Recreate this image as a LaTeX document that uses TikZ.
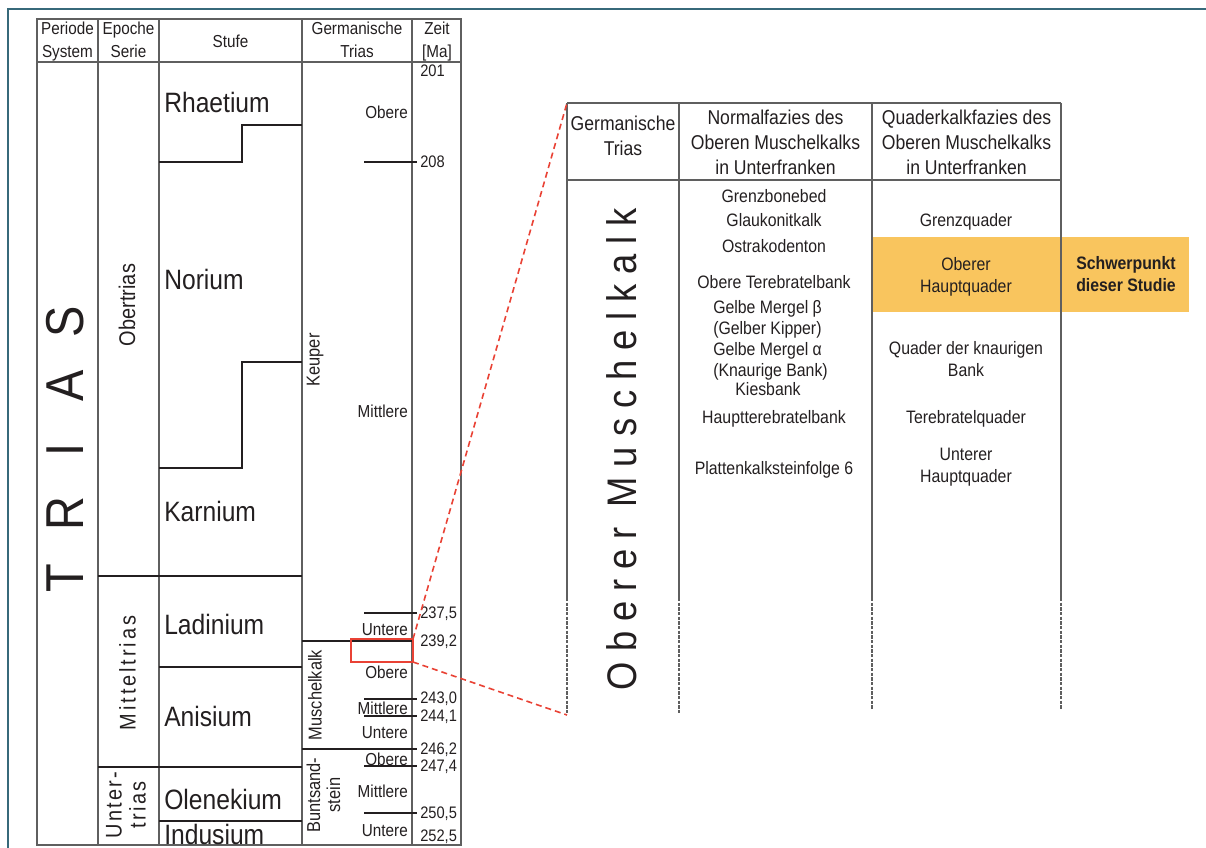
\documentclass[tikz,border=0pt]{standalone}
\usepackage{fontspec}
\setmainfont[FakeStretch=0.88]{Liberation Sans}
\usetikzlibrary{positioning}

\definecolor{tabgray}{RGB}{95,95,95}
\definecolor{inkgray}{RGB}{35,31,32}
\definecolor{markred}{RGB}{233,66,53}
\definecolor{focusorange}{RGB}{249,197,94}
\definecolor{frameteal}{RGB}{55,105,122}

\newcommand{\fsz}[2]{\fontsize{#1}{#2}\selectfont\lineskiplimit=-20pt}

\begin{document}
\begin{tikzpicture}[x=0.75pt,y=-0.75pt,
	tab/.style={draw=tabgray, line width=0.9pt},
	bound/.style={draw=inkgray, line width=0.8pt},
	redlink/.style={draw=markred, line width=1.2pt, dash pattern=on 4.5pt off 3pt},
	lbl/.style={inner sep=0pt, text=inkgray, text depth=0pt},
	head/.style={inner sep=0pt, text=inkgray, align=center, font=\fsz{13}{17}},
	rhead/.style={inner sep=0pt, text=inkgray, align=center, font=\fsz{15}{18.75}},
	stufe/.style={lbl, anchor=west, font=\fsz{21}{24}, text height=15pt},
	zeit/.style={lbl, anchor=west, font=\fsz{12.5}{14}, text height=8.9pt},
	sub/.style={lbl, anchor=east, font=\fsz{13}{15}, text height=9.3pt},
	grp/.style={lbl, rotate=90, font=\fsz{14}{15}, text height=10pt},
	serie/.style={lbl, rotate=90, font=\fsz{17}{18}, text height=12.2pt},
	body/.style={lbl, font=\fsz{13.5}{15}, text height=9.7pt},
]
\useasboundingbox (0,0) rectangle (1206,848);

% frame
\draw[frameteal, line width=1.6pt] (8,848) -- (8,9) -- (1206,9);

% left table
\draw[tab] (37,19) rectangle (461,845);
\draw[tab] (37,62) -- (461,62);
\foreach \x in {98,159,302,412}
	\draw[tab] (\x,19) -- (\x,845);
\draw[bound] (98,576) -- (302,576);
\draw[bound] (98,767) -- (302,767);
\draw[bound] (159,162) -- (242,162) -- (242,125) -- (302,125);
\draw[bound] (159,468) -- (242,468) -- (242,362) -- (302,362);
\draw[bound] (159,667) -- (302,667);
\draw[bound] (159,821) -- (302,821);
\draw[bound] (302,641) -- (412,641);
\draw[bound] (302,749) -- (417,749);
\foreach \y in {162,613,699,716,766,813}
	\draw[bound] (364,\y) -- (417,\y);

\node[head] (hper) at (67.5,41.5) {Periode\\System};
\node[head] (hepo) at (128.5,39.6) {Epoche\\Serie};
\node[lbl, font=\fsz{13}{17}, text height=9.3pt] (hstu) at (230.5,41) {Stufe};
\node[head] (hger) at (357,39.6) {Germanische\\Trias};
\node[head] (hzeit) at (437,41.5) {Zeit\\{[Ma]}};

\foreach \l/\y in {T/578, R/514, I/450, A/386, S/322}
	\node[lbl, rotate=90, font=\fsz{40}{44}, text height=28.6pt] (trias-\l) at (64,\y) {\l};

\node[serie] (obertrias) at (127,305) {Obertrias};
\node[serie, font=\fsz{17}{18}\addfontfeatures{LetterSpace=12.7}] (mitteltrias) at (127.5,673) {Mitteltrias};
\node[inner sep=0pt, text=inkgray, rotate=90, align=center, font=\fsz{17}{18}\addfontfeatures{LetterSpace=10.5}] (untertrias) at (126,805) {Unter-\\trias};

\foreach \t/\y in {Rhaetium/103, Norium/280, Karnium/511, Ladinium/624, Anisium/716, Olenekium/799, Indusium/834}
	\node[stufe] (st-\t) at (164,\y) {\t};

\node[grp] (keuper) at (313,360) {Keuper};
\node[grp] (muka) at (315,695) {Muschelkalk};
\node[inner sep=0pt, text=inkgray, rotate=90, align=center, font=\fsz{14}{15}] (bunt) at (323.4,795) {Buntsand-\\stein};

\foreach \t/\y [count=\i] in {Obere/112, Mittlere/411, Untere/629, Obere/672, Mittlere/708, Untere/732, Obere/759, Mittlere/791, Untere/830}
	\node[sub] (gt\i) at (408,\y) {\t};

\foreach \t/\y [count=\i] in {201/71, 208/162, 237{,}5/613, 239{,}2/641, 243{,}0/698, 244{,}1/716, 246{,}2/749, 247{,}4/766, 250{,}5/813, 252{,}5/836}
	\node[zeit] (z\i) at (420,\y) {\t};

% right table
\fill[focusorange] (873,237) rectangle (1189,312);
\draw[tab] (567,103) -- (1061,103);
\draw[tab] (567,180) -- (1061,180);
\foreach \x/\e in {567/714, 679/714, 872/710, 1061/710}{
	\draw[tab] (\x,103) -- (\x,598);
	\draw[tab, dash pattern=on 2.5pt off 1pt] (\x,598) -- (\x,\e);
}

\node[rhead] (rh1) at (623,135.7) {Germanische\\Trias};
\node[rhead] (rh2) at (775.5,142.7) {Normalfazies des\\Oberen Muschelkalks\\in Unterfranken};
\node[rhead] (rh3) at (966.5,142.7) {Quaderkalkfazies des\\Oberen Muschelkalks\\in Unterfranken};

\node[lbl, rotate=90, font=\fsz{31}{34}\addfontfeatures{LetterSpace=24}, text height=22.2pt] (omk) at (622,449) {Oberer Muschelkalk};

\node[body] (n1) at (774,196) {Grenzbonebed};
\node[body] (n2) at (774,220) {Glaukonitkalk};
\node[body] (n3) at (774,246) {Ostrakodenton};
\node[body] (n4) at (774,282) {Obere Terebratelbank};
\node[body, anchor=west] (n5) at (713,307) {Gelbe Mergel β};
\node[body, anchor=west] (n6) at (713,328) {(Gelber Kipper)};
\node[body, anchor=west] (n7) at (713,349) {Gelbe Mergel α};
\node[body, anchor=west] (n8) at (713,370) {(Knaurige Bank)};
\node[body] (n9) at (768,389) {Kiesbank};
\node[body] (n10) at (774,417) {Hauptterebratelbank};
\node[body] (n11) at (774,468) {Plattenkalksteinfolge 6};

\node[body] (q1) at (966,220) {Grenzquader};
\node[body] (q2) at (966,264) {Oberer};
\node[body] (q3) at (966,286) {Hauptquader};
\node[body] (q4) at (966,348) {Quader der knaurigen};
\node[body] (q5) at (966,370) {Bank};
\node[body] (q6) at (966,417) {Terebratelquader};
\node[body] (q7) at (966,454) {Unterer};
\node[body] (q8) at (966,476) {Hauptquader};

\node[body, font=\fsz{13.5}{15}\bfseries] (sp1) at (1126,263) {Schwerpunkt};
\node[body, font=\fsz{13.5}{15}\bfseries] (sp2) at (1126,285) {dieser Studie};

% zoom marker
\draw[markred, line width=1.6pt] (351,639) rectangle (413,662);
\coordinate (focusne) at (413,639);
\coordinate (focusse) at (413,662);
\coordinate (tabnw) at (567,103);
\coordinate (tabsw) at (567,715);
\draw[redlink] (focusne) -- (tabnw);
\draw[redlink] (focusse) -- (tabsw);
\end{tikzpicture}
\end{document}
